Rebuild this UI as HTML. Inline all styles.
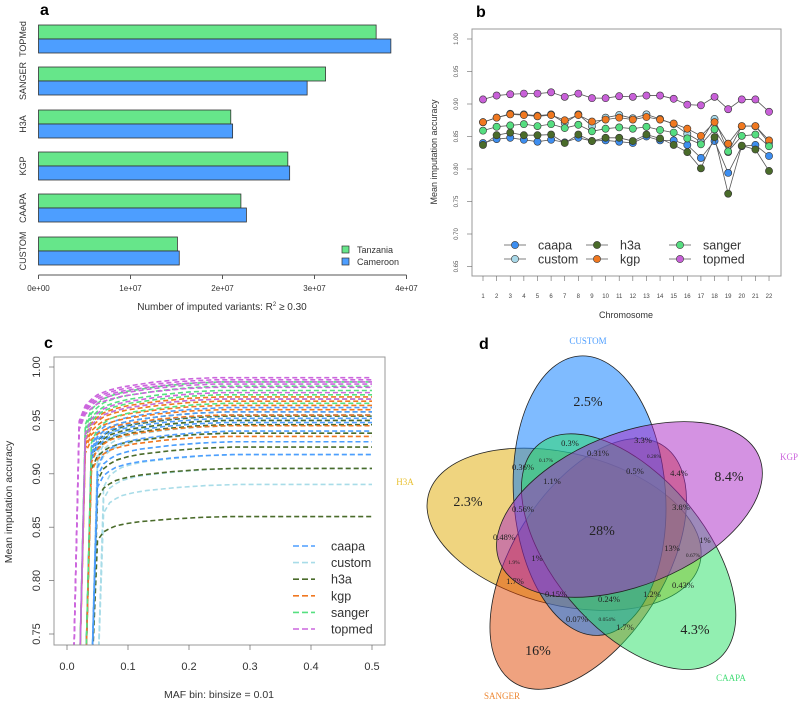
<!DOCTYPE html>
<html><head><meta charset="utf-8"><style>
html,body{margin:0;padding:0;background:#fff;overflow:hidden;width:800px;height:704px;}
svg{display:block;font-family:"Liberation Sans",sans-serif;}
</style></head><body>
<svg id="fig" width="800" height="704" viewBox="0 0 800 704" xmlns="http://www.w3.org/2000/svg">
<g id="pa"></g>
<g id="pb"></g>
<g id="pc"></g>
<g id="pd"></g>
</svg>
<script>
// ---------- Panel a data ----------
const aCats = ["TOPMed","SANGER","H3A","KGP","CAAPA","CUSTOM"];
const aTanzania = [3.67e7,3.12e7,2.09e7,2.71e7,2.20e7,1.51e7];
const aCameroon = [3.83e7,2.92e7,2.11e7,2.73e7,2.26e7,1.53e7];
const aTicks = [0,1e7,2e7,3e7,4e7];
const aTickLabels = ["0e+00","1e+07","2e+07","3e+07","4e+07"];
// ---------- Panel b data ----------
const bChrom = [1,2,3,4,5,6,7,8,9,10,11,12,13,14,15,16,17,18,19,20,21,22];
const bCaapa = [0.840,0.846,0.848,0.845,0.842,0.845,0.841,0.848,0.843,0.844,0.842,0.840,0.850,0.844,0.844,0.837,0.817,0.843,0.794,0.835,0.837,0.820];
const bCustom = [0.872,0.879,0.885,0.884,0.882,0.884,0.871,0.884,0.866,0.879,0.883,0.878,0.884,0.877,0.869,0.854,0.842,0.877,0.826,0.866,0.866,0.840];
const bH3a = [0.837,0.852,0.856,0.852,0.852,0.853,0.840,0.853,0.843,0.848,0.848,0.843,0.853,0.847,0.837,0.826,0.801,0.849,0.762,0.836,0.830,0.797];
const bKgp = [0.872,0.879,0.884,0.883,0.881,0.883,0.875,0.883,0.873,0.876,0.879,0.876,0.880,0.876,0.870,0.862,0.851,0.872,0.839,0.866,0.866,0.844];
const bSanger = [0.859,0.865,0.867,0.869,0.866,0.869,0.863,0.868,0.858,0.862,0.864,0.862,0.865,0.860,0.856,0.847,0.838,0.861,0.827,0.851,0.853,0.835];
const bTopmed = [0.907,0.913,0.915,0.916,0.916,0.918,0.911,0.916,0.909,0.909,0.912,0.911,0.913,0.913,0.908,0.899,0.898,0.911,0.892,0.907,0.907,0.888];
const bYTicks = [0.65,0.70,0.75,0.80,0.85,0.90,0.95,1.00];
// ---------- Panel c data ----------
const cProviders = ["caapa","custom","h3a","kgp","sanger","topmed"];
const cPlateauCaapa = [0.962,0.958,0.955,0.952,0.948,0.940,0.930,0.918];
const cPlateauCustom = [0.955,0.950,0.945,0.938,0.930,0.918,0.905,0.890];
const cPlateauH3a = [0.958,0.954,0.950,0.946,0.938,0.925,0.905,0.860];
const cPlateauKgp = [0.972,0.968,0.964,0.960,0.955,0.945,0.935];
const cPlateauSanger = [0.986,0.982,0.978,0.974,0.970,0.966];
const cPlateauTopmed = [0.990,0.988,0.986,0.984,0.981,0.976,0.970];
const cRiseProfile = [0.0,0.86,0.91,0.93,0.945,0.953,0.96,0.965,0.97,0.973,0.976,0.979,0.982,0.985,0.987,0.989,0.991,0.993,0.995,0.996,0.997,0.998,0.999,1.0];
const cLag = [2,3,2,1,1,0];
const cXTicks = [0,0.1,0.2,0.3,0.4,0.5];
const cYTicks = [0.75,0.80,0.85,0.90,0.95,1.00];
// ---------- Panel d data ----------
const dSets = ["CUSTOM","KGP","CAAPA","SANGER","H3A"];
const dPercents = ["2.5%","8.4%","4.3%","16%","2.3%","28%","0.3%","3.3%","0.31%","0.28%","0.17%","0.36%","1.1%","0.5%","4.4%","0.56%","3.8%","0.48%","1%","13%","0.67%","1.9%","1%","1.7%","0.43%","0.15%","0.24%","1.2%","0.07%","0.054%","1.7%"];

const NS="http://www.w3.org/2000/svg";
function mk(parent,tag,attrs,text){const e=document.createElementNS(NS,tag);for(const k in attrs)e.setAttribute(k,attrs[k]);if(text!==undefined)e.textContent=text;parent.appendChild(e);return e;}

// ===== Panel a =====
(function(){
const g=document.getElementById('pa');
const t=mk(g,'text',{x:40,y:15,'font-size':16,'font-weight':'bold'},'a');


const x=v=>38.5+v/1e7*92;
const groupTop=[25,67,110,152,194,237];
aCats.forEach((c,i)=>{
  const y0=groupTop[i];
  const r1=mk(g,'rect',{x:x(0),y:y0,width:x(aTanzania[i])-x(0),height:14,fill:'#66e68a',stroke:'#333','stroke-width':0.8});
  
  
  const r2=mk(g,'rect',{x:x(0),y:y0+14,width:x(aCameroon[i])-x(0),height:14,fill:'#4d9eff',stroke:'#333','stroke-width':0.8});
  
  
  const yl=mk(g,'text',{x:0,y:0,'font-size':9,fill:'#333','text-anchor':'middle',transform:`translate(26,${y0+14}) rotate(-90)`},c);
  
  
});
const ax=mk(g,'line',{x1:x(0),x2:x(4e7),y1:275,y2:275,stroke:'#555'});


aTicks.forEach((v,i)=>{
  mk(g,'line',{x1:x(v),x2:x(v),y1:275,y2:279,stroke:'#555'});
  const tl=mk(g,'text',{x:x(v),y:291,'font-size':8,fill:'#333','text-anchor':'middle'},aTickLabels[i]);
  
  
});
const ti=mk(g,'text',{x:222,y:310,'font-size':10,fill:'#333','text-anchor':'middle'});
ti.innerHTML='Number of imputed variants: R<tspan dy="-4" font-size="6">2</tspan><tspan dy="4"> ≥ 0.30</tspan>';


[['Tanzania','#66e68a',251],['Cameroon','#4d9eff',263]].forEach(([n,c,y])=>{
  const lg=mk(g,'g',{});
  
  
  mk(lg,'rect',{x:342,y:y-5,width:7,height:7,fill:c,stroke:'#333','stroke-width':0.7});
  mk(lg,'text',{x:357,y:y+2,'font-size':9,fill:'#333'},n);
});
})();

// ===== Panel b =====
(function(){
const g=document.getElementById('pb');
const t=mk(g,'text',{x:476,y:17,'font-size':16,'font-weight':'bold'},'b');


const x=c=>483+(c-1)*13.62;
const y=v=>39+(1.0-v)/0.05*32.5;
const box=mk(g,'rect',{x:472,y:29,width:309,height:247,fill:'none',stroke:'#999','stroke-width':1});


bYTicks.forEach(v=>{
  mk(g,'line',{x1:467,x2:472,y1:y(v),y2:y(v),stroke:'#666','stroke-width':0.6});
  const tl=mk(g,'text',{x:0,y:0,'font-size':6,fill:'#555','text-anchor':'middle',transform:`translate(458,${y(v)}) rotate(-90)`},v.toFixed(2));
  
  
});
bChrom.forEach(c=>{
  mk(g,'line',{x1:x(c),x2:x(c),y1:276,y2:281,stroke:'#666','stroke-width':0.6});
  const tl=mk(g,'text',{x:x(c),y:298,'font-size':6,fill:'#444','text-anchor':'middle'},String(c));
  
  
});
const xt=mk(g,'text',{x:626,y:318,'font-size':9,fill:'#333','text-anchor':'middle'},'Chromosome');


const yt=mk(g,'text',{x:0,y:0,'font-size':9,fill:'#333','text-anchor':'middle',transform:'translate(437,152) rotate(-90)'},'Mean imputation accuracy');


const series=[['caapa',bCaapa,'#3d8ef0'],['custom',bCustom,'#a8d8e8'],['h3a',bH3a,'#4a6b2a'],['kgp',bKgp,'#f07820'],['sanger',bSanger,'#55dd80'],['topmed',bTopmed,'#c860d8']];
series.forEach(([n,vals,col])=>{
  const sg=mk(g,'g',{});
  
  
  mk(sg,'polyline',{points:vals.map((v,i)=>x(bChrom[i])+','+y(v)).join(' '),fill:'none',stroke:'#555','stroke-width':0.8});
  vals.forEach((v,i)=>{
    const p=mk(sg,'circle',{cx:x(bChrom[i]),cy:y(v),r:3.6,fill:col,stroke:'#333','stroke-width':0.6});
    
    
  });
});
const lpos=[[515,245],[515,259],[597,245],[597,259],[680,245],[680,259]];
series.forEach(([n,vals,col],i)=>{
  const [lx,ly]=lpos[i];
  const lg=mk(g,'g',{});
  
  
  mk(lg,'line',{x1:lx-11,x2:lx+11,y1:ly,y2:ly,stroke:'#555','stroke-width':0.8});
  mk(lg,'circle',{cx:lx,cy:ly,r:3.6,fill:col,stroke:'#333','stroke-width':0.6});
  mk(lg,'text',{x:lx+23,y:ly+4.5,'font-size':12.5,fill:'#333'},n);
});
})();

// ===== Panel c =====
(function(){
const g=document.getElementById('pc');
const t=mk(g,'text',{x:44,y:348,'font-size':16,'font-weight':'bold'},'c');


const x=v=>67+v/0.5*305;
const y=v=>367+(1.0-v)/0.05*53.4;
mk(g,'defs',{}).innerHTML='<clipPath id="cclip"><rect x="54" y="357" width="331" height="288"/></clipPath>';
const plot=mk(g,'g',{'clip-path':'url(#cclip)'});
const cols={caapa:'#4d9eff',custom:'#a8dce8',h3a:'#4a6b2a',kgp:'#f07820',sanger:'#55e080',topmed:'#cc66dd'};
const plate={caapa:cPlateauCaapa,custom:cPlateauCustom,h3a:cPlateauH3a,kgp:cPlateauKgp,sanger:cPlateauSanger,topmed:cPlateauTopmed};
const order=["custom","h3a","caapa","kgp","sanger","topmed"];
const low=0.70;
order.forEach(n=>{
  const lag=cLag[cProviders.indexOf(n)];
  plate[n].forEach((p,k)=>{
    const pts=[];
    for(let i=0;i<50;i++){
      const bin=(i+1)*0.01;
      const j=i-lag-(k>=5?1:0);
      const f=j<0?-0.5:cRiseProfile[Math.min(j,cRiseProfile.length-1)];
      pts.push(x(bin)+','+y(low+(p-low)*f));
    }
    const l=mk(plot,'polyline',{points:pts.join(' '),fill:'none',stroke:cols[n],'stroke-width':1.6,'stroke-dasharray':'5,3'});
    
    
  });
});
const box=mk(g,'rect',{x:54,y:357,width:331,height:288,fill:'none',stroke:'#999','stroke-width':1});


cYTicks.forEach(v=>{
  mk(g,'line',{x1:49,x2:54,y1:y(v),y2:y(v),stroke:'#666','stroke-width':0.7});
  const tl=mk(g,'text',{x:0,y:0,'font-size':11,fill:'#333','text-anchor':'middle',transform:`translate(40,${y(v)}) rotate(-90)`},v.toFixed(2));
  
  
});
cXTicks.forEach(v=>{
  mk(g,'line',{x1:x(v),x2:x(v),y1:645,y2:650,stroke:'#666','stroke-width':0.7});
  const tl=mk(g,'text',{x:x(v),y:670,'font-size':11,fill:'#333','text-anchor':'middle'},v.toFixed(1));
  
  
});
const xt=mk(g,'text',{x:219,y:698,'font-size':10.5,fill:'#333','text-anchor':'middle'},'MAF bin: binsize = 0.01');


const yt=mk(g,'text',{x:0,y:0,'font-size':10.5,fill:'#333','text-anchor':'middle',transform:'translate(12,502) rotate(-90)'},'Mean imputation accuracy');


cProviders.forEach((n,i)=>{
  const ly=546+i*16.6;
  const lg=mk(g,'g',{});
  
  
  mk(lg,'line',{x1:293,x2:315,y1:ly,y2:ly,stroke:cols[n],'stroke-width':1.6,'stroke-dasharray':'6,3'});
  mk(lg,'text',{x:331,y:ly+4.5,'font-size':12.5,fill:'#333'},n);
});
})();

// ===== Panel d =====
(function(){
const g=document.getElementById('pd');
const t=mk(g,'text',{x:479,y:349,'font-size':16,'font-weight':'bold'},'d');


const cx=600,cy=530;
const fills=['#0077ff','#a926c6','#26e064','#e04500','#e0a900'];
const labCols=['#4d9eff','#cc66dd','#44dd77','#ee8833','#e8c030'];
const labPos=[[588,344],[789,460],[731,681],[502,699],[405,485]];
const drawOrder=[4,3,0,2,1];
drawOrder.forEach(i=>{
  const s=dSets[i];
  const e=mk(g,'ellipse',{cx:cx-8,cy:cy-35,rx:76,ry:140,fill:fills[i],'fill-opacity':0.5,stroke:'#222','stroke-width':0.8,transform:`rotate(${i*72-4},${cx},${cy})`});
  
  
});
dSets.forEach((s,i)=>{
  const l=mk(g,'text',{x:labPos[i][0],y:labPos[i][1],'font-size':9,fill:labCols[i],'text-anchor':'middle','font-family':'Liberation Serif,serif'},s);
  
  
});
const pPos=[[588,406,14],[729,481,14],[695,634,14],[538,655,14],[468,506,14],[602,535,14],[570,446,8.5],[643,443,8.5],[598,456,8.5],[654,458,5.5],[546,462,5.5],[523,470,8.5],[552,484,8.5],[635,474,8.5],[679,476,8.5],[523,512,8.5],[681,510,8.5],[504,540,8.5],[705,543,8.5],[672,551,8.5],[693,557,5.5],[514,564,5.5],[537,561,8.5],[515,584,8.5],[683,588,8.5],[556,597,8.5],[609,602,8.5],[652,597,8.5],[577,622,8.5],[607,621,5.5],[625,630,8.5]];
dPercents.forEach((p,i)=>{
  const [px,py,fs]=pPos[i];
  const l=mk(g,'text',{x:px,y:py,'font-size':fs,fill:'#222','text-anchor':'middle','font-family':'Liberation Serif,serif'},p);
  
  
});
})();
</script>
</body></html>
